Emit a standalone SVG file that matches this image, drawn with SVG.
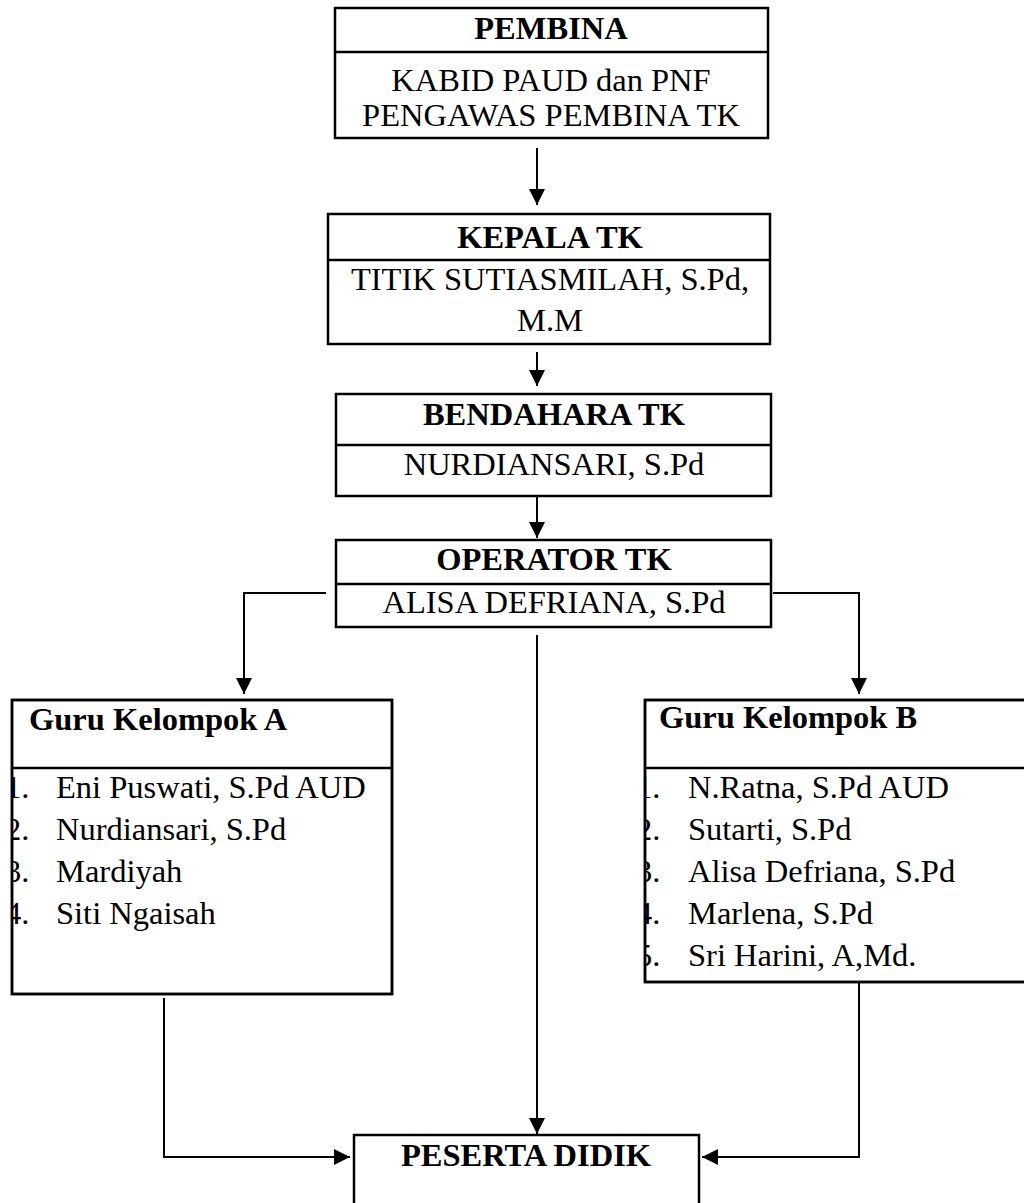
<svg xmlns="http://www.w3.org/2000/svg" width="1024" height="1203" viewBox="0 0 1024 1203">
<style>
  .box { fill: #fff; stroke: #000; stroke-width: 2.5; }
  .div { stroke: #000; stroke-width: 2.5; }
  .t { font-family: "Liberation Serif", "Times New Roman", serif; font-size: 32.5px; fill: #000; }
  .b { font-weight: bold; }
  .c { text-anchor: middle; }
  .conn { fill: none; stroke: #000; stroke-width: 2; }
</style>
<defs>
  <marker id="ah" markerUnits="userSpaceOnUse" markerWidth="16" markerHeight="16" refX="16" refY="8" orient="auto">
    <path d="M0,0 L16,8 L0,16 z" fill="#000"/>
  </marker>
  <clipPath id="clipA"><rect x="12" y="700" width="380" height="294"/></clipPath>
  <clipPath id="clipB"><rect x="645" y="700" width="385" height="282"/></clipPath>
</defs>
<rect width="1024" height="1203" fill="#fff"/>

<g id="connectors">
  <path class="conn" d="M537,148 V205" marker-end="url(#ah)"/>
  <path class="conn" d="M537,352 V386" marker-end="url(#ah)"/>
  <path class="conn" d="M537,497 V538" marker-end="url(#ah)"/>
  <path class="conn" d="M326,593 H244 V694" marker-end="url(#ah)"/>
  <path class="conn" d="M773,593 H859 V694" marker-end="url(#ah)"/>
  <path class="conn" d="M537,635 V1134" marker-end="url(#ah)"/>
  <path class="conn" d="M164,998 V1157 H350" marker-end="url(#ah)"/>
  <path class="conn" d="M859,983 V1157 H702" marker-end="url(#ah)"/>
</g>

<g id="pembina">
  <rect class="box" x="335" y="8" width="433" height="130"/>
  <line class="div" x1="335" y1="52" x2="768" y2="52"/>
  <text class="t b c" x="551" y="39">PEMBINA</text>
  <text class="t c" x="551" y="91">KABID PAUD dan PNF</text>
  <text class="t c" x="551" y="126">PENGAWAS PEMBINA TK</text>
</g>

<g id="kepala">
  <rect class="box" x="328" y="214" width="442" height="130"/>
  <line class="div" x1="328" y1="260" x2="770" y2="260"/>
  <text class="t b c" x="550" y="248">KEPALA TK</text>
  <text class="t c" x="550" y="290">TITIK SUTIASMILAH, S.Pd,</text>
  <text class="t c" x="550" y="331">M.M</text>
</g>

<g id="bendahara">
  <rect class="box" x="336" y="394" width="435" height="102"/>
  <line class="div" x1="336" y1="445" x2="771" y2="445"/>
  <text class="t b c" x="554" y="425">BENDAHARA TK</text>
  <text class="t c" x="554" y="475">NURDIANSARI, S.Pd</text>
</g>

<g id="operator">
  <rect class="box" x="336" y="540" width="435" height="87"/>
  <line class="div" x1="336" y1="584" x2="771" y2="584"/>
  <text class="t b c" x="554" y="570">OPERATOR TK</text>
  <text class="t c" x="554" y="613">ALISA DEFRIANA, S.Pd</text>
</g>

<g id="guru-a">
  <rect class="box" x="12" y="700" width="380" height="294"/>
  <line class="div" x1="12" y1="768" x2="392" y2="768"/>
  <text class="t b" x="29" y="730">Guru Kelompok A</text>
  <g clip-path="url(#clipA)">
    <text class="t" x="5" y="798">1.</text>
    <text class="t" x="5" y="840">2.</text>
    <text class="t" x="5" y="882">3.</text>
    <text class="t" x="5" y="924">4.</text>
  </g>
  <text class="t" x="56" y="798">Eni Puswati, S.Pd AUD</text>
  <text class="t" x="56" y="840">Nurdiansari, S.Pd</text>
  <text class="t" x="56" y="882">Mardiyah</text>
  <text class="t" x="56" y="924">Siti Ngaisah</text>
  <rect x="12" y="700" width="380" height="294" fill="none" stroke="#000" stroke-width="2.5"/>
</g>

<g id="guru-b">
  <rect class="box" x="645" y="700" width="385" height="282"/>
  <line class="div" x1="645" y1="768" x2="1030" y2="768"/>
  <text class="t b" x="659" y="728">Guru Kelompok B</text>
  <g clip-path="url(#clipB)">
    <text class="t" x="636" y="798">1.</text>
    <text class="t" x="636" y="840">2.</text>
    <text class="t" x="636" y="882">3.</text>
    <text class="t" x="636" y="924">4.</text>
    <text class="t" x="636" y="966">5.</text>
  </g>
  <text class="t" x="688" y="798">N.Ratna, S.Pd AUD</text>
  <text class="t" x="688" y="840">Sutarti, S.Pd</text>
  <text class="t" x="688" y="882">Alisa Defriana, S.Pd</text>
  <text class="t" x="688" y="924">Marlena, S.Pd</text>
  <text class="t" x="688" y="966">Sri Harini, A,Md.</text>
  <rect x="645" y="700" width="385" height="282" fill="none" stroke="#000" stroke-width="2.5"/>
</g>

<g id="peserta">
  <rect class="box" x="354" y="1135" width="345" height="80"/>
  <text class="t b c" x="526" y="1166">PESERTA DIDIK</text>
</g>
</svg>
